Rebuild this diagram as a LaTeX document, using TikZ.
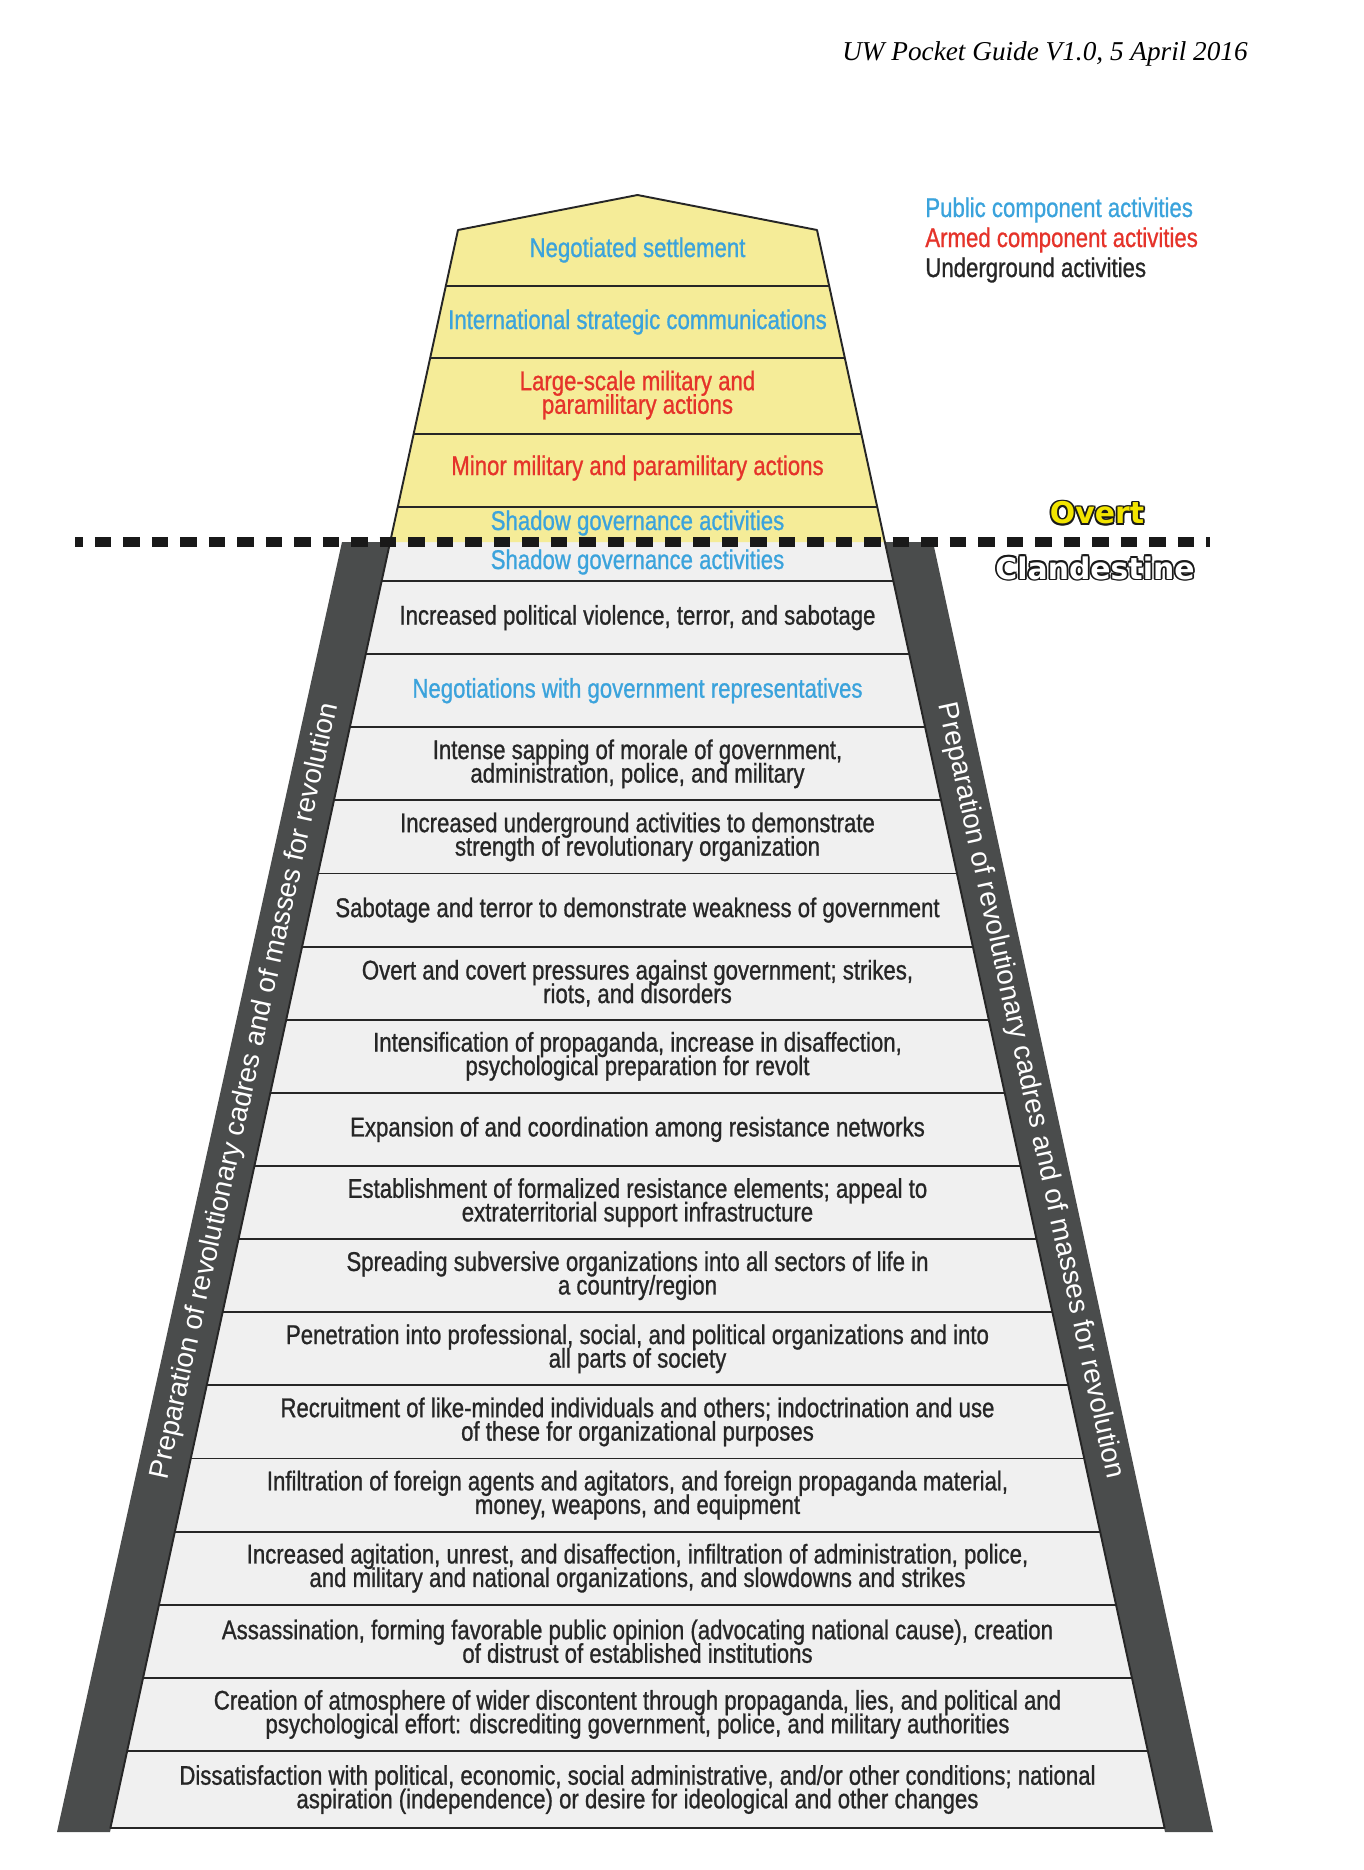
\documentclass[tikz,border=0pt]{standalone}
\usepackage{fontspec}
\setmainfont{Liberation Sans}
\newfontfamily\rowfont{Liberation Sans}[FakeStretch=0.82,FakeBold=0.9]
\newfontfamily\sidefont{Liberation Sans}
\newfontfamily\markfont{DejaVu Sans}
\newfontfamily\headfont{Liberation Serif}
\usepackage{tikz}
\setlength{\lineskiplimit}{-8pt}

\definecolor{roofyellow}{HTML}{F5EC98}
\definecolor{rowgray}{HTML}{F0F0F0}
\definecolor{bardark}{HTML}{4A4C4C}
\definecolor{pubblue}{HTML}{3BA3DC}
\definecolor{armred}{HTML}{E5332A}
\definecolor{overtyellow}{HTML}{F2E400}

% outlined lettering: black copies round a coloured one
\newcommand\outlinedtext[2]{%
  \leavevmode
  \rlap{\color{black!90}\kern1pt#2}%
  \rlap{\color{black!90}\kern-1pt#2}%
  \rlap{\color{black!90}\raisebox{1pt}{#2}}%
  \rlap{\color{black!90}\raisebox{-1pt}{#2}}%
  \rlap{\color{black!90}\kern0.7pt\raisebox{0.7pt}{#2}}%
  \rlap{\color{black!90}\kern-0.7pt\raisebox{0.7pt}{#2}}%
  \rlap{\color{black!90}\kern0.7pt\raisebox{-0.7pt}{#2}}%
  \rlap{\color{black!90}\kern-0.7pt\raisebox{-0.7pt}{#2}}%
  {\color{#1}#2}}

\tikzset{
  rowtext/.style={align=center, text=black!85, font=\rowfont\fontsize{15.4}{13.4}\selectfont},
  pubtext/.style={rowtext, text=pubblue},
  armtext/.style={rowtext, text=armred},
  sidetext/.style={text=white, font=\sidefont\fontsize{15.9}{16}\selectfont},
  divider/.style={line width=1.1pt, draw=black!85},
  marktext/.style={font=\markfont\bfseries\fontsize{17}{17}\selectfont},
  declare function={hw(\y)=247.5+0.2174*(\y-542);}
}

\begin{document}
\begin{tikzpicture}[x=0.02cm,y=-0.02cm]
\useasboundingbox (0,0) rectangle (1364,1870);
% side bars
\fill[bardark] (342,542) -- (390,542) -- (110,1832) -- (57,1832) -- cycle;
\fill[bardark] (885,542) -- (933,542) -- (1213,1832) -- (1165,1832) -- cycle;
% body and roof
\fill[rowgray] (390,542) -- (885,542) -- (1164.6,1828) -- (110.4,1828) -- cycle;
\fill[roofyellow] (390,542) -- (458,230) -- (637.5,195) -- (817,230) -- (885,542) -- cycle;
\foreach \y in {286,358,434,507}
  \draw[divider] ({637.5-hw(\y)},\y) -- ({637.5+hw(\y)},\y);
\foreach \k in {0,...,16} {
  \pgfmathsetmacro\y{581+73.125*\k}
  \draw[divider] ({637.5-hw(\y)},\y) -- ({637.5+hw(\y)},\y);
}
\draw[divider, line join=round] (110.4,1828) -- (458,230) -- (637.5,195) -- (817,230) -- (1164.6,1828) -- cycle;
% overt / clandestine line
\coordinate (dashL) at (75,542);
\coordinate (dashR) at (1210,542);
\draw[line width=5.67pt, black!90, dash pattern=on 0.334cm off 0.236cm, dash phase=0.174cm] (dashL) -- (dashR);
\node[marktext] (overt) at (1097,513) {\outlinedtext{overtyellow}{Overt}};
\node[marktext] (cland) at (1095,568) {\outlinedtext{white}{Clandestine}};
% header and legend
\node[anchor=base east, inner sep=0, font=\headfont\itshape\fontsize{15.5}{16}\selectfont] (guide) at (1248,60) {UW Pocket Guide V1.0, 5 April 2016};
\node[pubtext, anchor=west, inner sep=0] (legpub) at (925,210) {Public component activities};
\node[armtext, anchor=west, inner sep=0] (legarm) at (925,240) {Armed component activities};
\node[rowtext, anchor=west, inner sep=0] (legund) at (925,270) {Underground activities};
% overt rows
\node[pubtext] (settle) at (637.5,250) {Negotiated settlement};
\node[pubtext] (intcom) at (637.5,322) {International strategic communications};
\node[armtext] (largemil) at (637.5,395) {Large-scale military and\\paramilitary actions};
\node[armtext] (minormil) at (637.5,468) {Minor military and paramilitary actions};
\node[pubtext] (shadowtop) at (637.5,523) {Shadow governance activities};
% clandestine rows
\node[pubtext] (shadowlow) at (637.5,562) {Shadow governance activities};
\node[rowtext] (violence) at (637.5,617.6) {Increased political violence, terror, and sabotage};
\node[pubtext] (negot) at (637.5,690.7) {Negotiations with government representatives};
\node[rowtext] (sapping) at (637.5,763.8) {Intense sapping of morale of government,\\administration, police, and military};
\node[rowtext] (undergr) at (637.5,836.9) {Increased underground activities to demonstrate\\strength of revolutionary organization};
\node[rowtext] (sabot) at (637.5,910.1) {Sabotage and terror to demonstrate weakness of government};
\node[rowtext] (pressure) at (637.5,983.2) {Overt and covert pressures against government; strikes,\\riots, and disorders};
\node[rowtext] (propag) at (637.5,1056.3) {Intensification of propaganda, increase in disaffection,\\psychological preparation for revolt};
\node[rowtext] (expans) at (637.5,1129.4) {Expansion of and coordination among resistance networks};
\node[rowtext] (establ) at (637.5,1202.6) {Establishment of formalized resistance elements; appeal to\\extraterritorial support infrastructure};
\node[rowtext] (spread) at (637.5,1275.7) {Spreading subversive organizations into all sectors of life in\\a country/region};
\node[rowtext] (penetr) at (637.5,1348.8) {Penetration into professional, social, and political organizations and into\\all parts of society};
\node[rowtext] (recruit) at (637.5,1421.9) {Recruitment of like-minded individuals and others; indoctrination and use\\of these for organizational purposes};
\node[rowtext] (infiltr) at (637.5,1495.1) {Infiltration of foreign agents and agitators, and foreign propaganda material,\\money, weapons, and equipment};
\node[rowtext] (agitat) at (637.5,1568.2) {Increased agitation, unrest, and disaffection, infiltration of administration, police,\\and military and national organizations, and slowdowns and strikes};
\node[rowtext] (assass) at (637.5,1641.3) {Assassination, forming favorable public opinion (advocating national cause), creation\\of distrust of established institutions};
\node[rowtext] (atmos) at (637.5,1714.4) {Creation of atmosphere of wider discontent through propaganda, lies, and political and\\psychological effort: discrediting government, police, and military authorities};
\node[rowtext] (dissat) at (637.5,1789.5) {Dissatisfaction with political, economic, social administrative, and/or other conditions; national\\aspiration (independence) or desire for ideological and other changes};
% bar labels
\node[sidetext, rotate=77.65] (prepL) at (245.5,1091) {Preparation of revolutionary cadres and of masses for revolution};
\node[sidetext, rotate=-77.7] (prepR) at (1030,1091) {Preparation of revolutionary cadres and of masses for revolution};
\end{tikzpicture}
\end{document}
